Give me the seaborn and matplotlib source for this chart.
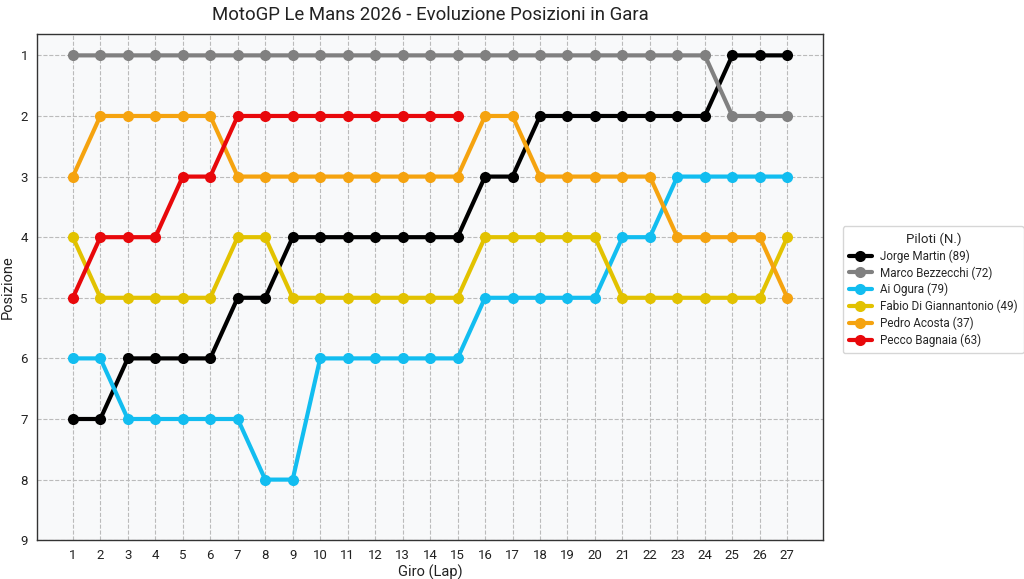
import matplotlib
matplotlib.use("Agg")
import matplotlib.pyplot as plt
import pandas as pd
import seaborn as sns

laps = list(range(1, 28))

riders = [
    "Jorge Martin (89)",
    "Marco Bezzecchi (72)",
    "Ai Ogura (79)",
    "Fabio Di Giannantonio (49)",
    "Pedro Acosta (37)",
    "Pecco Bagnaia (63)",
]

martin = [7, 7, 6, 6, 6, 6, 5, 5, 4, 4, 4, 4, 4, 4, 4, 3, 3, 2, 2, 2, 2, 2, 2, 2, 1, 1, 1]
bezzecchi = [1] * 24 + [2, 2, 2]
ogura = [6, 6, 7, 7, 7, 7, 7, 8, 8, 6, 6, 6, 6, 6, 6, 5, 5, 5, 5, 5, 4, 4, 3, 3, 3, 3, 3]
digia = [4, 5, 5, 5, 5, 5, 4, 4, 5, 5, 5, 5, 5, 5, 5, 4, 4, 4, 4, 4, 5, 5, 5, 5, 5, 5, 4]
acosta = [3, 2, 2, 2, 2, 2, 3, 3, 3, 3, 3, 3, 3, 3, 3, 2, 2, 3, 3, 3, 3, 3, 4, 4, 4, 4, 5]
bagnaia = [5, 4, 4, 4, 3, 3, 2, 2, 2, 2, 2, 2, 2, 2, 2]  # ritirato dopo il giro 15

colors = ["#000000", "#808080", "#12BDF0", "#E2C200", "#F5A30F", "#E8080B"]

# build long table
rows = []
for name, pos in zip(riders, [martin, bezzecchi, ogura, digia, acosta, bagnaia]):
    for lap, p in zip(laps, pos):
        rows.append({"Giro": lap, "Posizione": p, "Pilota": name})
df = pd.DataFrame(rows)

sns.set_style("whitegrid")
plt.rcParams["font.family"] = ["Roboto", "DejaVu Sans"]

fig, ax = plt.subplots(figsize=(10.24, 5.79), dpi=100)
fig.subplots_adjust(left=0.036, right=0.804, top=0.941, bottom=0.067)

sns.lineplot(
    data=df,
    x="Giro",
    y="Posizione",
    hue="Pilota",
    hue_order=riders,
    palette=colors,
    marker="o",
    markersize=8,
    markeredgewidth=0,
    linewidth=3,
    ax=ax,
)

ax.set_facecolor("#F8F9FA")
ax.set_xlim(-0.31, 28.31)
ax.set_ylim(9, 0.65)
ax.set_xticks(laps)
ax.set_yticks(range(1, 10))
ax.grid(True, linestyle="--", color="#BBBBBB", linewidth=0.8)
for s in ax.spines.values():
    s.set_color("#333333")
    s.set_linewidth(1.0)
ax.tick_params(axis="both", length=3, color="#333333", labelsize=9.5, colors="#222222")

ax.set_title("MotoGP Le Mans 2026 - Evoluzione Posizioni in Gara", fontsize=13.4, color="#222222", pad=10)
ax.set_xlabel("Giro (Lap)", fontsize=10.5, color="#222222", labelpad=2)
ax.set_ylabel("Posizione", fontsize=10.5, color="#222222", labelpad=4)

leg = ax.legend(
    title="Piloti (N.)",
    bbox_to_anchor=(1.025, 0.62),
    loc="upper left",
    borderaxespad=0,
    fontsize=8.4,
    title_fontsize=9.5,
    frameon=True,
    handlelength=2.0,
    handletextpad=0.7,
    borderpad=0.5,
    labelspacing=0.3,
)
leg.get_frame().set_edgecolor("#CCCCCC")

fig.savefig("out.png", dpi=100)
